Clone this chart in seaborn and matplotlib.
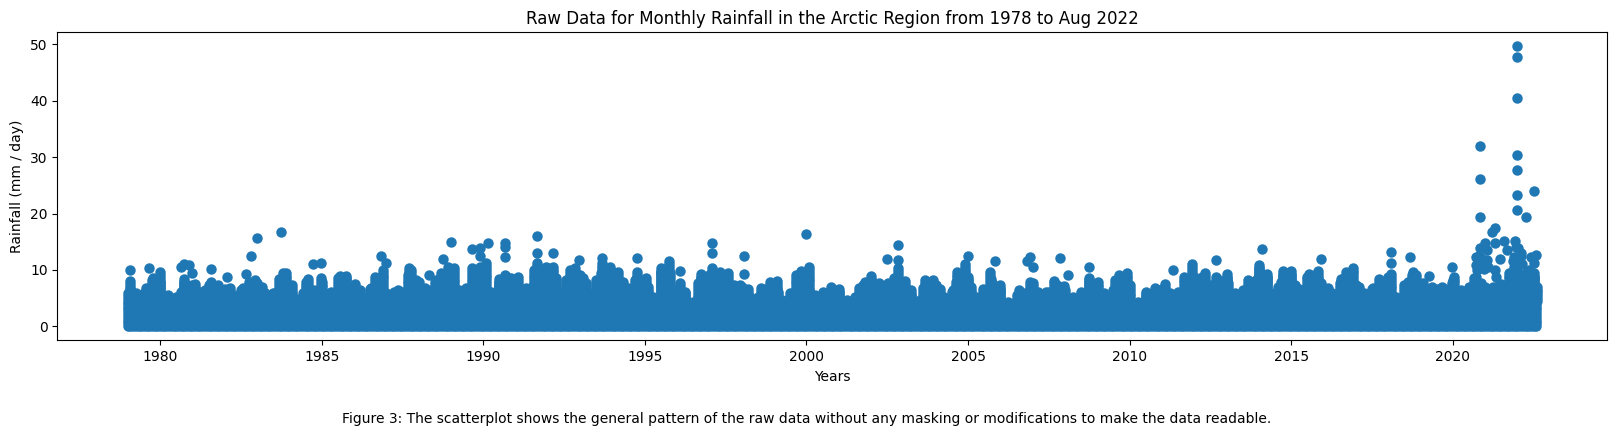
import numpy as np
import pandas as pd
import matplotlib
matplotlib.use("Agg")
import matplotlib.pyplot as plt
import seaborn as sns

# values (year as decimal, rain in mm/day)

# the solid band along the bottom, one column per month
first_year = 1979.0
n_months = 524
band_rain = [0.0, 0.5, 1.0, 1.5, 2.0, 2.5, 3.0, 3.5, 4.0]

# top of the solid mass at each quarter, one row per year
quarter_top = [
    5.84, 5.84, 5.84, 8.2,    # 1979
    7.9, 5.25, 5.25, 7.9,     # 1980
    7.3, 6.1, 7.3, 7.0,
    6.7, 5.5, 6.4, 7.9,
    7.6, 5.84, 5.84, 8.2,
    7.0, 4.84, 7.9, 6.4,      # 1984
    7.9, 5.84, 8.5, 8.5,
    7.0, 5.25, 6.7, 8.5,
    5.84, 6.1, 6.1, 9.97,
    7.9, 6.4, 7.9, 9.1,
    9.97, 6.4, 6.4, 8.5,      # 1989
    10.3, 6.1, 7.9, 8.8,
    8.2, 6.1, 7.0, 8.5,
    10.3, 8.5, 5.84, 9.7,
    9.1, 5.84, 8.2, 9.1,
    9.7, 7.9, 6.1, 8.5,       # 1994
    7.9, 5.25, 9.7, 9.1,
    6.4, 5.84, 4.36, 8.5,
    9.1, 8.8, 7.3, 7.3,
    7.0, 5.25, 5.25, 6.7,
    6.7, 4.66, 5.84, 8.5,     # 1999
    9.1, 5.5, 5.5, 6.4,
    6.1, 4.66, 5.25, 7.3,
    8.2, 7.0, 7.0, 7.9,
    7.3, 5.5, 4.66, 7.6,
    7.3, 5.25, 6.1, 9.1,      # 2004
    8.2, 5.25, 5.84, 7.6,
    6.7, 4.36, 5.5, 5.84,
    7.6, 5.25, 6.1, 7.3,
    6.4, 5.25, 5.25, 8.2,
    7.3, 5.25, 6.4, 8.2,      # 2009
    7.3, 4.36, 5.5, 6.1,
    6.7, 5.84, 6.1, 8.2,
    7.9, 8.8, 7.3, 8.2,
    8.5, 5.84, 6.1, 7.9,
    10.3, 8.8, 5.84, 9.1,     # 2014
    9.1, 6.7, 8.8, 9.1,
    6.1, 5.84, 7.6, 9.1,
    7.3, 5.84, 6.7, 7.9,
    8.8, 5.25, 7.3, 9.1,
    6.7, 6.7, 6.7, 6.7,       # 2019
    8.2, 5.84, 7.0, 7.0,
    7.0, 7.0, 7.5, 9.5,
    11.0, 9.5, 9.5,           # 2022, ends in Aug
]

# tops of the bumps on the band, everything under them is solid
ridge_years = [
    1979.08, 1979.11, 1979.78, 1979.94, 1979.58, 1980.25, 1980.00, 1980.74, 1981.07, 1980.66,
    1981.58, 1981.38, 1981.79, 1982.16, 1982.93, 1983.14, 1982.57, 1983.67, 1983.79, 1983.91,
    1984.08, 1983.55, 1984.58, 1984.98, 1984.42, 1985.30, 1985.58, 1985.76, 1986.02, 1985.56,
    1986.18, 1986.65, 1986.90, 1986.54, 1987.70, 1987.67, 1987.93, 1987.36, 1988.19, 1988.91,
    1989.08, 1988.70, 1989.06, 1988.55, 1990.09, 1989.66, 1989.89, 1990.01, 1989.73, 1989.99,
    1989.48, 1990.66, 1990.48, 1991.07, 1990.87, 1991.33, 1991.67, 1991.57, 1992.16, 1991.95,
    1991.90, 1991.64, 1992.41, 1992.67, 1992.83, 1992.57, 1993.08, 1993.19, 1993.67, 1993.91,
    1994.17, 1993.65, 1993.60, 1994.32, 1994.48, 1994.77, 1995.04, 1994.68, 1995.09, 1995.74,
    1995.51, 1995.77, 1996.08, 1996.23, 1996.74, 1997.07, 1997.31, 1997.58, 1996.64, 1997.10,
    1997.52, 1997.93, 1998.19, 1998.86, 1999.10, 1998.60, 1999.12, 1999.68, 1999.82, 2000.07,
    1999.94, 1999.58, 2000.09, 2000.77, 2001.02, 2000.51, 2001.99, 2001.80, 2002.24, 2001.64,
    2002.83, 2002.72, 2003.06, 2002.52, 2003.24, 2003.67, 2003.92, 2003.60, 2004.12, 2004.90,
    2004.65, 2004.99, 2004.63, 2005.10, 2004.53, 2005.68, 2005.71, 2006.00, 2005.46, 2006.91,
    2006.59, 2007.16, 2007.65, 2007.98, 2007.42, 2008.74, 2009.01, 2008.50, 2009.22, 2009.91,
    2009.66, 2009.56, 2009.89, 2010.51, 2010.77, 2011.08, 2011.92, 2011.69, 2012.33, 2012.06,
    2012.67, 2013.00, 2013.03, 2012.52, 2013.99, 2014.25, 2013.65, 2013.91, 2013.50, 2014.74,
    2014.99, 2014.68, 2015.13, 2014.58, 2015.56, 2015.82, 2015.92, 2015.46, 2016.13, 2016.90,
    2016.69, 2016.54, 2017.11, 2017.52, 2017.73, 2018.08, 2017.98, 2018.78, 2018.60, 2018.86,
    2019.07, 2019.37, 2019.68, 2020.05, 2019.99, 2020.25, 2020.66, 2020.50, 2020.87, 2021.43,
    2021.95, 2022.36, 2022.52, 2022.60, 2022.20,
]
ridge_rain = [
    8.03, 6.14, 8.50, 7.61, 6.73, 5.55, 9.62, 8.32, 7.50, 6.14,
    7.91, 6.43, 7.32, 6.73, 8.20, 7.02, 6.73, 8.32, 9.50, 9.50,
    7.32, 5.96, 8.32, 8.50, 5.84, 6.14, 8.91, 8.91, 7.50, 7.32,
    6.43, 8.68, 9.98, 6.73, 10.39, 9.09, 8.20, 6.43, 6.73, 10.57,
    10.27, 9.39, 8.20, 8.20, 11.16, 10.27, 10.57, 9.86, 8.79, 8.20,
    6.73, 9.09, 8.32, 8.68, 8.50, 6.73, 11.27, 9.98, 10.57, 10.57,
    8.79, 7.61, 6.14, 9.98, 10.27, 8.20, 8.50, 7.61, 11.27, 10.57,
    9.56, 9.39, 8.20, 7.91, 6.73, 9.56, 8.50, 8.20, 7.02, 11.51,
    10.39, 9.39, 7.61, 6.14, 9.27, 10.27, 9.68, 9.39, 7.61, 8.20,
    7.91, 7.32, 6.55, 7.79, 8.03, 6.73, 6.14, 9.09, 9.80, 10.45,
    7.91, 5.84, 6.43, 7.02, 6.61, 6.14, 8.91, 7.91, 7.73, 6.73,
    10.27, 8.50, 8.03, 7.61, 6.43, 8.20, 8.20, 6.73, 6.55, 11.04,
    9.68, 8.68, 7.91, 7.02, 6.43, 9.56, 8.32, 7.32, 6.55, 7.79,
    6.43, 6.14, 8.09, 7.20, 6.14, 8.50, 7.91, 6.14, 5.96, 9.50,
    9.09, 8.20, 7.91, 6.14, 6.73, 7.44, 10.98, 8.79, 9.39, 8.50,
    8.68, 9.27, 7.61, 7.02, 10.86, 9.27, 8.20, 8.20, 6.43, 9.74,
    9.74, 7.91, 7.32, 7.02, 9.21, 9.80, 7.73, 6.73, 6.73, 10.39,
    9.56, 8.32, 7.02, 6.73, 8.32, 9.21, 7.91, 9.68, 7.91, 9.09,
    7.61, 7.02, 7.02, 8.79, 7.61, 6.43, 8.50, 6.10, 7.60, 7.30,
    10.00, 10.00, 8.80, 7.00, 9.00,
]

# points that stand clear of the band
lone_years = [
    1979.07, 1979.66, 1980.66, 1980.74, 1980.90, 1980.99, 1981.58, 1982.07, 1982.66, 1982.82,
    1983.00, 1983.74, 1984.73, 1984.98, 1986.84, 1986.98, 1988.32, 1988.75, 1989.00, 1989.65,
    1989.90, 1989.90, 1990.15, 1990.67, 1990.67, 1990.67, 1991.67, 1991.67, 1992.16, 1992.95,
    1993.67, 1994.76, 1996.08, 1997.07, 1997.07, 1998.06, 1998.06, 1999.98, 2002.49, 2002.83,
    2002.83, 2004.99, 2005.83, 2006.82, 2006.92, 2007.00, 2007.84, 2008.09, 2008.74, 2011.33,
    2012.66, 2014.09, 2015.91, 2018.08, 2018.08, 2018.66, 2019.25, 2019.99, 2020.83, 2020.83,
    2020.83, 2021.32, 2021.22, 2020.99, 2020.83, 2021.32, 2021.58, 2021.91, 2021.67, 2022.02,
    2022.57, 2022.41, 2022.52, 2021.47, 2020.71, 2021.07, 2020.73, 2020.97, 2021.32, 2021.33,
    2020.73, 2021.07, 2021.90, 2022.00, 2022.00, 2022.00, 2022.00, 2022.00, 2022.00, 2022.00,
    2022.50, 2022.25, 2020.80, 2020.90, 2020.85, 2021.00, 2020.75, 2021.10, 2021.95, 2022.10,
    2022.00, 2021.85, 2021.90, 2022.15, 2022.10,
]
lone_rain = [
    10.00, 10.27, 10.57, 11.04, 10.86, 9.39, 10.15, 8.68, 9.21, 12.40,
    15.58, 16.65, 10.98, 11.16, 12.40, 11.16, 9.09, 11.86, 14.87, 13.64,
    13.81, 12.51, 14.70, 14.82, 13.99, 12.22, 15.99, 12.93, 12.93, 11.75,
    12.04, 12.04, 9.74, 14.70, 12.93, 12.40, 9.27, 16.29, 11.86, 14.34,
    11.75, 12.45, 11.51, 11.51, 12.34, 10.45, 12.04, 9.09, 10.45, 9.98,
    11.81, 13.64, 11.86, 13.10, 11.16, 12.22, 8.91, 10.45, 32.05, 26.20,
    19.30, 17.35, 16.70, 14.70, 13.80, 14.70, 15.10, 15.15, 13.50, 13.80,
    12.60, 12.30, 11.15, 12.00, 12.20, 13.50, 10.90, 10.10, 10.00, 8.80,
    8.70, 11.75, 12.30, 49.65, 47.80, 40.56, 30.46, 27.80, 23.25, 20.70,
    24.00, 19.30, 12.50, 12.00, 11.00, 11.00, 10.00, 10.50, 14.00, 13.00,
    12.00, 11.50, 10.50, 11.00, 12.50,
]

tick_years = [1980, 1985, 1990, 1995, 2000, 2005, 2010, 2015, 2020]

title = "Raw Data for Monthly Rainfall in the Arctic Region from 1978 to Aug 2022"
caption = ("Figure 3: The scatterplot shows the general pattern of the raw data "
           "without any masking or modifications to make the data readable.")

# long table: band columns + stacks under the tops + lone points
xs, ys = [], []
for m in range(n_months):
    for r in band_rain:
        xs.append(first_year + m / 12)
        ys.append(r)

stack_years = [first_year + q / 4 for q in range(len(quarter_top))] + ridge_years
stack_tops = quarter_top + ridge_rain
for yr, top in zip(stack_years, stack_tops):
    r = top
    while r > band_rain[-1]:
        xs.append(yr)
        ys.append(r)
        r -= 0.5
xs += lone_years
ys += lone_rain
df = pd.DataFrame({"year": xs, "rain": ys})

fig = plt.figure(figsize=(16.16, 4.37), dpi=100)
ax = fig.add_axes([57.3 / 1616, 1 - 340.3 / 437, 1550 / 1616, 308 / 437])

sns.scatterplot(data=df, x="year", y="rain", ax=ax, s=36, color="#1f77b4",
                edgecolor="#1f77b4", linewidth=1.5)

ax.set_xticks(tick_years)
ax.set_title(title, fontsize=12)
ax.set_xlabel("Years")
ax.set_ylabel("Rainfall (mm / day)")
fig.text(0.499, 1 - 419.3 / 437, caption, ha="center", va="center", fontsize=10)

fig.savefig("out.png", dpi=100)
